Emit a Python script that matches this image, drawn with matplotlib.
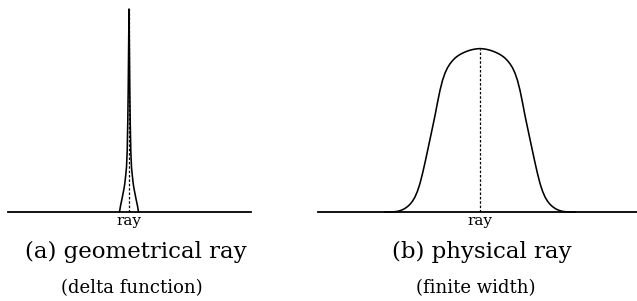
import numpy as np
import matplotlib.pyplot as plt

plt.rcParams['font.family'] = 'DejaVu Serif'

# left panel: sharp spike (delta function), offset from the ray / relative height
spike_dx = [-9.5, -8.5, -7.2, -6.0, -5.0, -4.2, -3.3, -2.5, -1.8, -1.2, -0.8, -0.4, 0.0]
spike_h = [0.0, 0.03, 0.06, 0.09, 0.115, 0.14, 0.18, 0.22, 0.30, 0.45, 0.60, 0.80, 1.0]

# right panel: broad bump (finite width), left half
bump_dx = [-95, -90, -87.5, -85, -82.5, -80, -77.5, -75, -72.5, -70, -67.5, -65, -62.5,
           -60, -57.5, -55, -52.5, -50, -47.5, -45, -42.5, -40, -37.5, -35, -32.5,
           -30, -27.5, -25, -22.5, -20, -17.5, -15, -12.5, -10, -7.5, -5, -2.5, 0]
bump_h = [0.0, 0.0, 0.0005, 0.002, 0.004, 0.008, 0.014, 0.022, 0.033, 0.047, 0.066,
          0.092, 0.128, 0.175, 0.235, 0.302, 0.373, 0.445, 0.517, 0.59, 0.67, 0.745,
          0.805, 0.85, 0.883, 0.907, 0.926, 0.942, 0.954, 0.964, 0.972, 0.979, 0.985,
          0.99, 0.994, 0.997, 0.999, 1.0]

titles = ['(a) geometrical ray', '(b) physical ray']
subtitles = ['(delta function)', '(finite width)']


def mirror(dx, h):
    dx = np.asarray(dx, float)
    h = np.asarray(h, float)
    return np.concatenate([dx, -dx[-2::-1]]), np.concatenate([h, h[-2::-1]])


W, H = 637, 301
fig = plt.figure(figsize=(W / 100, H / 100), dpi=100)

# axes placed in pixel terms: baseline at y=212 px
ax1 = fig.add_axes([7.5 / W, (H - 212) / H, 243 / W, 203 / H])
ax2 = fig.add_axes([318 / W, (H - 212) / H, 319 / W, 163.4 / H])

ax1.set_xlim(-121.5, 121.5)
ax2.set_xlim(-162, 157)

curves = [mirror(spike_dx, spike_h), mirror(bump_dx, bump_h)]
title_shift = [5, 1]
sub_shift = [2, -3]

for i, ax in enumerate([ax1, ax2]):
    x, y = curves[i]
    ax.plot(x, y, color='black', lw=1.15, clip_on=False, solid_joinstyle='round')
    ax.plot([0, 0], [0, max(y)], color='black', lw=0.9, ls=(0, (2, 1.5)))
    ax.set_ylim(0, 1)
    for s in ['top', 'left', 'right']:
        ax.spines[s].set_visible(False)
    ax.spines['bottom'].set_linewidth(1.3)
    ax.set_yticks([])
    ax.set_xticks([0], ['ray'])
    ax.tick_params(axis='x', length=0, pad=1.5, labelsize=11)
    ax.patch.set_alpha(0)
    ax.annotate(titles[i], xy=(0, 0), xytext=(title_shift[i], -29), textcoords='offset points',
                ha='center', va='center', fontsize=16.5)
    ax.annotate(subtitles[i], xy=(0, 0), xytext=(sub_shift[i], -55), textcoords='offset points',
                ha='center', va='center', fontsize=13)

fig.savefig('out.png', dpi=100)
